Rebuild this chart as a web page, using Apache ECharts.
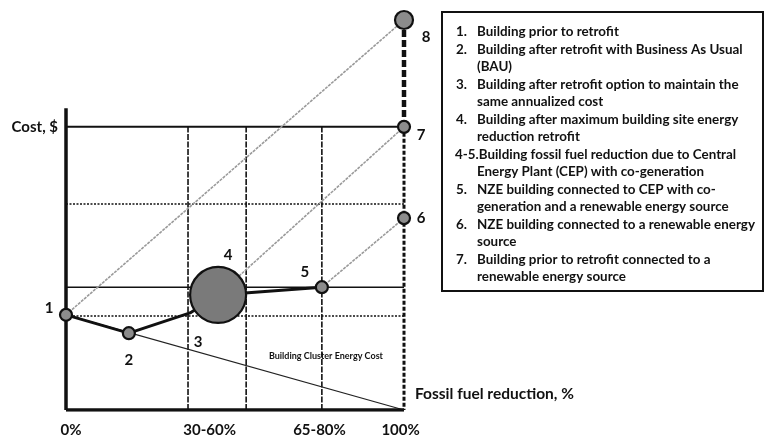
<!DOCTYPE html>
<html><head><meta charset="utf-8">
<script src="https://cdn.jsdelivr.net/npm/echarts@6/dist/echarts.min.js"></script>
<style>html,body{margin:0;padding:0;background:#fff}#c{width:764px;height:440px}</style>
</head><body><div id="c"></div>
<script>
// ---- data ----
const tickLabels = ['0%', '30-60%', '65-80%', '100%'];
const tickPos = [1.5, 42.5, 75, 99];
const costLabel = 'Cost, $';
const costLabelPos = 72.6;
const xName = 'Fossil fuel reduction, %';

const pointNames = ['1', '2', '4', '5', '6', '7', '8'];
const pointX = [0, 18.6, 45, 75.7, 100, 100, 100];
const pointY = [24.4, 19.7, 29.5, 31.5, 49.2, 72.6, 100];

// thick cost path 1 -> 2 -> 4 -> 5
const pathX = [0, 18.6, 36.7, 45, 75.7];
const pathY = [24.4, 19.7, 24.9, 29.5, 31.5];

// thin building-cluster line
const clusterX = [0, 100];
const clusterY = [24.4, 0];

// gray links between points (indices into point arrays): 1-8, 4-7, 5-6
const grayLinks = [[0, 6], [2, 5], [3, 4]];

const hLineY = [72.6, 52.8, 31.5, 24.1];
const vLineX = [36.1, 53.3, 75.7];
const axisTopY = 77.4;

const annotX = [39.1, 76.9];
const annotY = [17.4, 13.8];
const annotText = ['3', 'Building Cluster Energy Cost'];

const legendNums = ['1.', '2.', '', '3.', '', '4.', '', '4-5.', '', '5.', '', '6.', '', '7.', ''];
const legendTexts = [
  'Building prior to retrofit',
  'Building after retrofit with Business As Usual',
  '(BAU)',
  'Building after retrofit option to maintain the',
  'same annualized cost',
  'Building after maximum building site energy',
  'reduction retrofit',
  'Building fossil fuel reduction due to Central',
  'Energy Plant (CEP) with co-generation',
  'NZE building connected to CEP with co-',
  'generation and a renewable energy source',
  'NZE building connected to a renewable energy',
  'source',
  'Building prior to retrofit connected to a',
  'renewable energy source'
];

// ---- styles ----
const FONT = 'Lato';
const INK = '#111';
const GRAY = '#9a9a9a';
const symbolSizes = { '4': 56, '8': 18 };
const symbolFills = { '4': '#7a7a7a' };
const labelOffsets = {
  '1': [-17, -7], '2': [0, 27], '4': [10, -40], '5': [-17, -15],
  '6': [17, 0], '7': [17, 8], '8': [22, 17]
};

function lineSeries(data, style, z) {
  return {
    type: 'line', data: data, symbol: 'none', silent: true, animation: false,
    lineStyle: style, z: z || 2
  };
}

const series = [];
// horizontal grid lines
const hStyles = [
  { color: INK, width: 2, type: 'solid' },
  { color: INK, width: 1.5, type: [2, 1.5] },
  { color: INK, width: 1.5, type: 'solid' },
  { color: INK, width: 1.5, type: [2, 1.5] }
];
hLineY.forEach((y, i) => series.push(lineSeries([[0, y], [100, y]], hStyles[i], 1)));
// vertical lines
vLineX.forEach(x => series.push(lineSeries([[x, 0], [x, hLineY[0]]], { color: INK, width: 1.6, type: [6, 1.5] }, 1)));
// axes
series.push(lineSeries([[0, 0], [0, axisTopY]], { color: INK, width: 3.5 }, 3));
series.push(lineSeries([[0, 0], [100, 0]], { color: INK, width: 3.5 }, 3));
// right dashed
series.push(lineSeries([[pointX[5], pointY[5]], [100, 0]], { color: INK, width: 3, type: [4, 2] }, 3));
series.push(lineSeries([[pointX[6], pointY[6]], [pointX[5], pointY[5]]], { color: INK, width: 4.5, type: [7, 3] }, 3));
// gray links
grayLinks.forEach(l => series.push(lineSeries(
  [[pointX[l[0]], pointY[l[0]]], [pointX[l[1]], pointY[l[1]]]],
  { color: GRAY, width: 1.6, type: [3, 1] }, 2)));
// cluster line
series.push(lineSeries(clusterX.map((x, i) => [x, clusterY[i]]), { color: '#222', width: 1.2 }, 2));
// thick cost path
series.push(lineSeries(pathX.map((x, i) => [x, pathY[i]]), { color: INK, width: 3 }, 4));
// points
series.push({
  type: 'scatter', z: 5, silent: true, animation: false,
  data: pointNames.map((n, i) => ({
    value: [pointX[i], pointY[i]], name: n,
    symbolSize: symbolSizes[n] || 12,
    itemStyle: { color: symbolFills[n] || '#8c8c8c' },
    label: { offset: labelOffsets[n] }
  })),
  itemStyle: { color: '#8c8c8c', borderColor: INK, borderWidth: 2.2, opacity: 1 },
  label: {
    show: true, position: 'inside', formatter: p => p.name,
    fontFamily: FONT, fontWeight: 'bold', fontSize: 15, color: INK, opacity: 1
  }
});
// annotations
series.push({
  type: 'scatter', z: 6, silent: true, animation: false, symbolSize: 0,
  data: annotText.map((t, i) => ({
    value: [annotX[i], annotY[i]], name: t,
    label: i === 0 ? { fontSize: 15 } : { fontSize: 9 }
  })),
  itemStyle: { opacity: 1 },
  label: {
    show: true, position: 'inside', formatter: p => p.name,
    fontFamily: FONT, fontWeight: 'bold', color: INK, opacity: 1
  }
});

// legend box graphic
const legendEls = [{
  type: 'rect', shape: { x: 442, y: 12, width: 321, height: 279 },
  style: { fill: '#fff', stroke: INK, lineWidth: 2 }, z: 1
}];
legendTexts.forEach((t, i) => {
  const y = 32 + i * 17.5;
  const num = legendNums[i];
  const base = { fontFamily: FONT, fontWeight: 'bold', fontSize: 13.4, fill: INK, verticalAlign: 'middle' };
  if (num.length > 2) {
    legendEls.push({ type: 'text', z: 2, style: Object.assign({ x: 455, y: y, text: num + t }, base) });
  } else {
    if (num) legendEls.push({ type: 'text', z: 2, style: Object.assign({ x: 456, y: y, text: num }, base) });
    legendEls.push({ type: 'text', z: 2, style: Object.assign({ x: 477, y: y, text: t }, base) });
  }
});

const chart = echarts.init(document.getElementById('c'), null, { renderer: 'canvas' });
chart.setOption({
  animation: false,
  backgroundColor: '#fff',
  grid: { left: 66, right: 360, top: 20, bottom: 30 },
  xAxis: {
    type: 'value', min: 0, max: 100,
    axisLine: { show: false }, axisTick: { show: false }, splitLine: { show: false },
    axisLabel: {
      customValues: tickPos, margin: 13,
      formatter: v => tickLabels[tickPos.indexOf(v)] || '',
      fontFamily: FONT, fontWeight: 'bold', fontSize: 15, color: INK
    },
    name: xName, nameLocation: 'end', nameGap: 11,
    nameTextStyle: { fontFamily: FONT, fontWeight: 'bold', fontSize: 15.5, color: INK, align: 'left', verticalAlign: 'bottom', padding: [0, 0, 8, 0] }
  },
  yAxis: {
    type: 'value', min: 0, max: 100,
    axisLine: { show: false }, axisTick: { show: false }, splitLine: { show: false },
    axisLabel: {
      customValues: [costLabelPos], margin: 8,
      formatter: () => costLabel,
      fontFamily: FONT, fontWeight: 'bold', fontSize: 15, color: INK
    }
  },
  graphic: [{ type: 'group', children: legendEls }],
  series: series
});
</script>
</body></html>
